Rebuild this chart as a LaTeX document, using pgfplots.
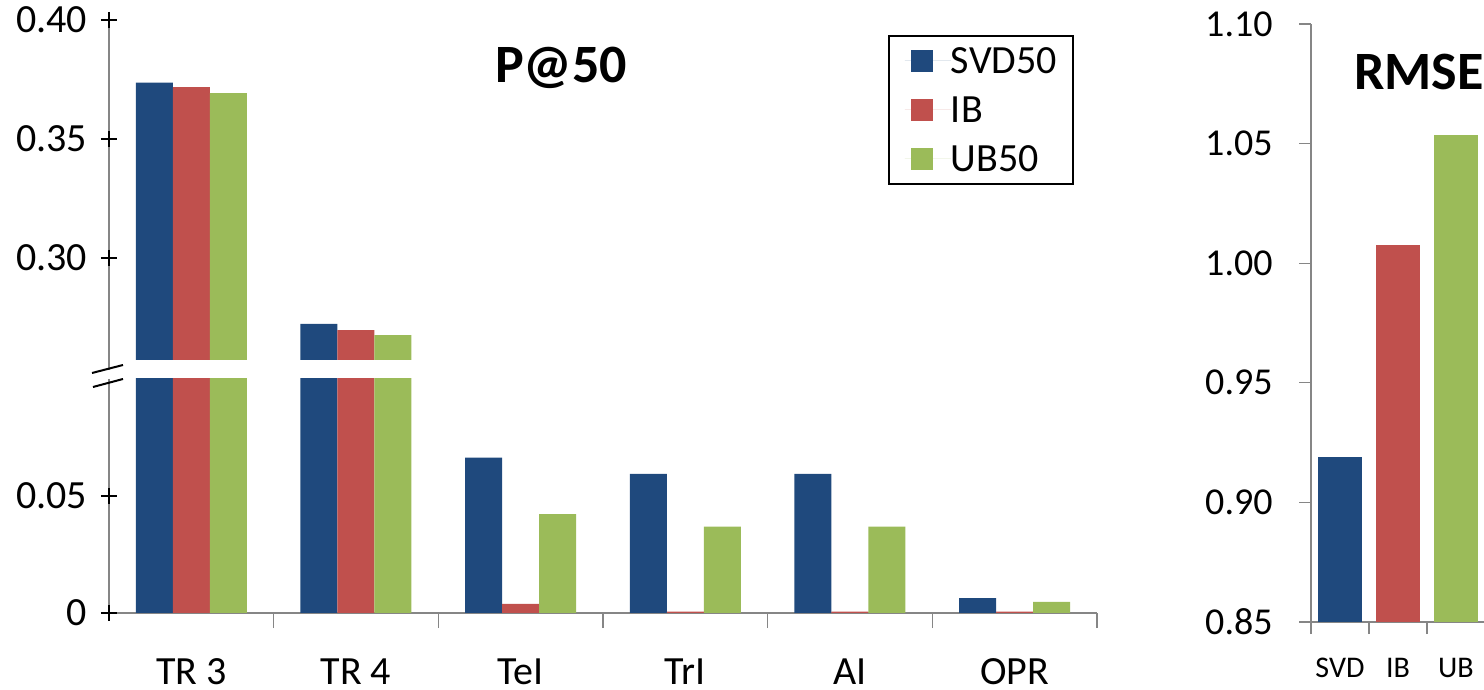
\documentclass[border=0pt]{standalone}
\usepackage{pgfplots}
\pgfplotsset{compat=1.18}
\usepackage{pgfplotstable}
\usepackage{fontspec}
\setmainfont{Carlito}
\definecolor{cSVD}{HTML}{1F497D}
\definecolor{cIB}{HTML}{C0504D}
\definecolor{cUB}{HTML}{9BBB59}
\definecolor{axgray}{HTML}{868686}

\pgfplotstableread{
x svd ib ub
0 0.3737 0.3718 0.3693
1 0.2723 0.2697 0.2676
2 0.0664 0.0039 0.0422
3 0.0594 0.0006 0.0369
4 0.0594 0.0006 0.0369
5 0.0064 0.0006 0.0047
}\ptable

\newcommand{\ticksize}{\fontsize{20}{24}\selectfont}

\pgfplotsset{
  leftpanel/.style={
    scale only axis, width=494pt,
    xmin=-0.5, xmax=5.5,
    axis line style={draw=axgray, line width=0.65pt},
    ytick align=center, xtick align=outside,
    major tick length=7.5pt,
    xtick style={draw=axgray, line width=0.65pt},
    ytick style={draw=black, line width=1pt},
    yticklabel style={anchor=east, inner sep=0pt, xshift=-7pt, font=\ticksize},
    xticklabel style={anchor=base, inner sep=0pt, yshift=-28pt, xshift=-41.17pt, font=\ticksize},
    clip=true,
  },
  barA/.style={ybar, bar width=18.5pt, bar shift=-18.5pt, fill=cSVD, draw=none},
  barB/.style={ybar, bar width=18.5pt, bar shift=0pt, fill=cIB, draw=none},
  barC/.style={ybar, bar width=18.5pt, bar shift=18.5pt, fill=cUB, draw=none},
  plusmark/.style={only marks, mark=+, mark size=4pt, black, mark options={line width=1.1pt}, forget plot},
}

\begin{document}
\begin{tikzpicture}
\path[use as bounding box] (0pt,0pt) rectangle (742pt,345pt);
\clip (0pt,0pt) rectangle (742pt,345pt);

% lower part of the broken axis
\begin{axis}[leftpanel,
  at={(54.5pt,38.5pt)}, anchor=south west, height=117pt,
  ymin=0, ymax=0.1,
  ytick={0,0.05}, yticklabels={0,0.05},
  axis x line*=bottom, axis y line*=left,
  xtick={0.5,1.5,2.5,3.5,4.5,5.5}, xticklabels={TR 3,TR 4,TeI,TrI,AI,OPR},
]
\addplot[barA] table[x=x, y=svd] {\ptable};
\addplot[barB] table[x=x, y=ib] {\ptable};
\addplot[barC] table[x=x, y=ub] {\ptable};
\addplot[plusmark] coordinates {(-0.5,0) (-0.5,0.05)};
\end{axis}

% upper part of the broken axis
\begin{axis}[leftpanel,
  at={(54.5pt,165pt)}, anchor=south west, height=170pt,
  ymin=0.2571, ymax=0.40,
  ytick={0.30,0.35,0.40}, yticklabels={0.30,0.35,0.40},
  axis x line=none, axis y line*=left,
  legend style={at={(0.7885,0.956)}, anchor=north west, draw=black,
    line width=0.9pt, font=\ticksize, inner xsep=8pt, inner ysep=6pt,
    row sep=11.6pt,
    nodes={inner sep=0pt, text height=12.9pt, text depth=0pt}},
  legend cell align=left,
]
\addplot[barA, restrict x to domain=-0.5:1.5, legend image code/.code={\path (-3pt,0pt) -- (20pt,0pt);\fill[cSVD] (0pt,-5.5pt) rectangle (11pt,5.5pt);}] table[x=x, y=svd] {\ptable};
\addplot[barB, restrict x to domain=-0.5:1.5, legend image code/.code={\path (-3pt,0pt) -- (20pt,0pt);\fill[cIB] (0pt,-5.5pt) rectangle (11pt,5.5pt);}] table[x=x, y=ib] {\ptable};
\addplot[barC, restrict x to domain=-0.5:1.5, legend image code/.code={\path (-3pt,0pt) -- (20pt,0pt);\fill[cUB] (0pt,-5.5pt) rectangle (11pt,5.5pt);}] table[x=x, y=ub] {\ptable};
\addplot[plusmark] coordinates {(-0.5,0.30) (-0.5,0.35) (-0.5,0.40)};
\legend{SVD50,IB,UB50}
\end{axis}

% axis break
\draw[axgray, line width=0.65pt] (54.5pt,165pt) -- (54.5pt,160pt);
\draw[axgray, line width=0.65pt] (54.5pt,155.5pt) -- (54.5pt,152pt);
\draw[black, line width=1pt] (46pt,158.5pt) -- (61.5pt,162.5pt);
\draw[black, line width=1pt] (46.5pt,151.5pt) -- (61.5pt,155.5pt);

\node[anchor=base, font=\bfseries\fontsize{27}{32}\selectfont] at (280.5pt,303.5pt) {P@50};

% right panel
\begin{axis}[scale only axis,
  at={(655.5pt,34pt)}, anchor=south west, width=116pt, height=299pt,
  xmin=-0.5, xmax=3.5, ymin=0.85, ymax=1.10,
  axis x line*=bottom, axis y line*=left,
  axis line style={draw=axgray, line width=0.65pt},
  ytick={0.85,0.90,0.95,1.00,1.05,1.10},
  yticklabels={0.85,0.90,0.95,1.00,1.05,1.10},
  tick align=outside,
  major tick length=6pt,
  major tick style={draw=axgray, line width=0.65pt},
  xtick={-0.5,0.5,1.5,2.5,3.5}, xticklabels={,SVD,IB,UB,},
  yticklabel style={anchor=east, inner sep=0pt, xshift=-13pt, font=\fontsize{19}{23}\selectfont},
  xticklabel style={anchor=base, inner sep=0pt, yshift=-21.5pt, xshift=-14.5pt, font=\fontsize{15}{18}\selectfont},
]
\addplot[ybar, bar width=22pt, bar shift=0pt, fill=cSVD, draw=none] coordinates {(0,0.919)};
\addplot[ybar, bar width=22pt, bar shift=0pt, fill=cIB, draw=none] coordinates {(1,1.0075)};
\addplot[ybar, bar width=22pt, bar shift=0pt, fill=cUB, draw=none] coordinates {(2,1.0535)};
\end{axis}
\node[anchor=base west, font=\bfseries\fontsize{27}{32}\selectfont] at (673.5pt,300pt) {RMSE};
\end{tikzpicture}
\end{document}
